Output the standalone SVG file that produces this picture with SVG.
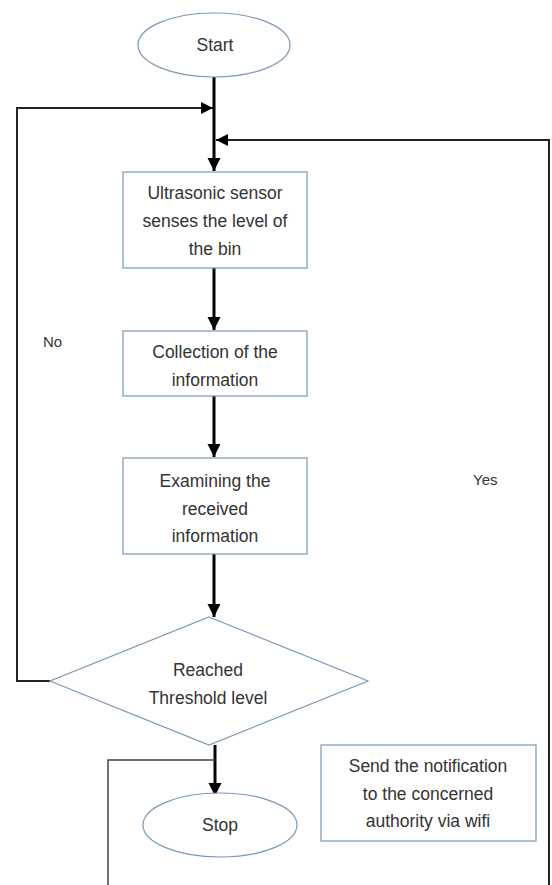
<svg xmlns="http://www.w3.org/2000/svg" width="552" height="885" viewBox="0 0 552 885">
<defs>
<style>
.node{fill:#fff;stroke:#7b98b6;stroke-width:1.2}
.t{font-family:"Liberation Sans",Arial,sans-serif;font-size:17.5px;fill:#333;text-anchor:middle}
.lbl{font-family:"Liberation Sans",Arial,sans-serif;font-size:15px;fill:#333}
.main{stroke:#000;stroke-width:3;fill:none}
.loop{stroke:#222;stroke-width:2;fill:none}
.thin{stroke:#444;stroke-width:1.5;fill:none}
</style>
<marker id="ah" viewBox="0 0 10 10" refX="10" refY="5" markerWidth="4.5" markerHeight="4.5" orient="auto" markerUnits="strokeWidth">
<path d="M0,0 L10,5 L0,10 z" fill="#000"/>
</marker>
<marker id="ah2" viewBox="0 0 10 10" refX="10" refY="5" markerWidth="6" markerHeight="6" orient="auto" markerUnits="strokeWidth">
<path d="M0,0 L10,5 L0,10 z" fill="#000"/>
</marker>
</defs>
<g id="connectors">
<path class="main" d="M214,77 V171" marker-end="url(#ah)"/>
<path class="loop" d="M50,681 H17 V108 H213" marker-end="url(#ah2)"/>
<path class="loop" d="M549,885 V140 H216" marker-end="url(#ah2)"/>
<path class="main" d="M214,268 V330" marker-end="url(#ah)"/>
<path class="main" d="M214,396 V457" marker-end="url(#ah)"/>
<path class="main" d="M214,554 V617" marker-end="url(#ah)"/>
<path class="main" d="M215,745 V796" marker-end="url(#ah)"/>
<path class="thin" d="M215,760 H108 V885"/>
</g>
<g id="start">
<ellipse class="node" cx="214" cy="45" rx="76" ry="32"/>
<text class="t" x="215" y="51">Start</text>
</g>
<g id="sense">
<rect class="node" x="123" y="172" width="184" height="96"/>
<text class="t" x="215" y="199">Ultrasonic sensor</text>
<text class="t" x="215" y="227">senses the level of</text>
<text class="t" x="215" y="255">the bin</text>
</g>
<g id="collect">
<rect class="node" x="123" y="331" width="184" height="65"/>
<text class="t" x="215" y="358">Collection of the</text>
<text class="t" x="215" y="386">information</text>
</g>
<g id="examine">
<rect class="node" x="123" y="458" width="184" height="96"/>
<text class="t" x="215" y="487">Examining the</text>
<text class="t" x="215" y="515">received</text>
<text class="t" x="215" y="542">information</text>
</g>
<g id="decision">
<polygon class="node" points="209,617 368,681 209,745 50,681"/>
<text class="t" x="208" y="676">Reached</text>
<text class="t" x="208" y="704">Threshold level</text>
</g>
<g id="stop">
<ellipse class="node" cx="220" cy="825" rx="77" ry="32"/>
<text class="t" x="220" y="831">Stop</text>
</g>
<g id="notify">
<rect class="node" x="321" y="745" width="215" height="96"/>
<text class="t" x="428" y="772">Send the notification</text>
<text class="t" x="428" y="800">to the concerned</text>
<text class="t" x="428" y="827">authority via wifi</text>
</g>
<g id="labels">
<text class="lbl" x="43" y="347">No</text>
<text class="lbl" x="473" y="485">Yes</text>
</g>
</svg>
